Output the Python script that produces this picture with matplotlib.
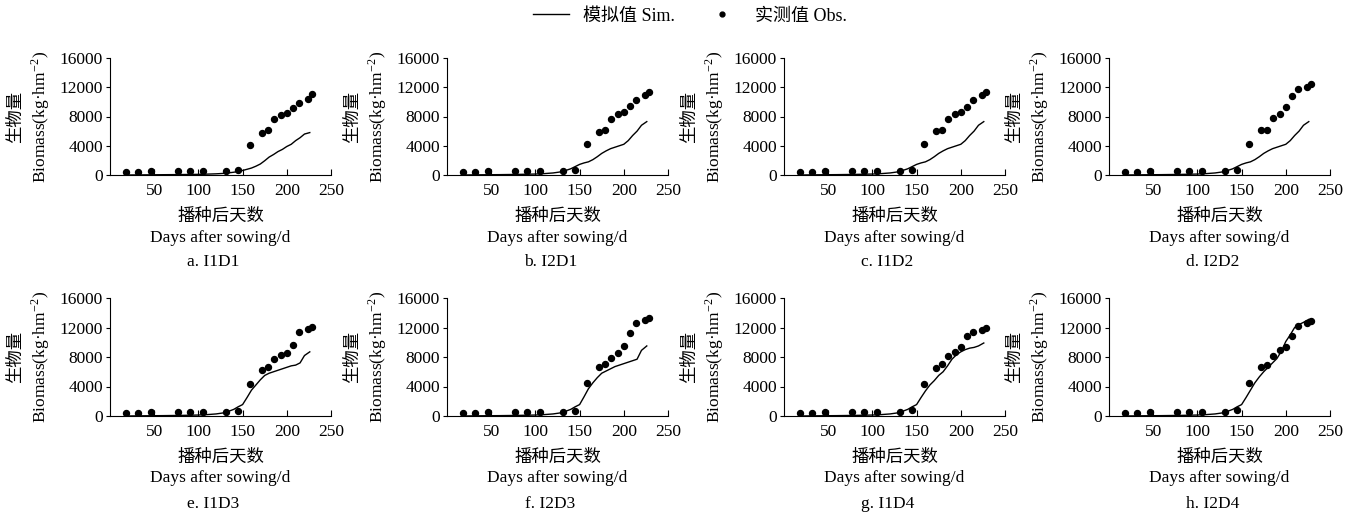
import matplotlib
matplotlib.use('Agg')
import matplotlib.pyplot as plt
from matplotlib.lines import Line2D

plt.rcParams['font.family'] = ['Liberation Serif', 'Noto Sans CJK SC']
plt.rcParams['mathtext.fontset'] = 'stix'
plt.rcParams['font.size'] = 12.5

# observation days and simulation days
obs_days = [18, 32, 46, 77, 91, 105, 131, 145, 158, 172, 179, 186, 193, 200, 207, 214, 224, 229]
sim_days = [18, 40, 60, 80, 100, 110, 120, 130, 140, 145, 150, 155, 160, 165, 170,
            175, 180, 185, 190, 195, 200, 205, 210, 215, 220, 226]

titles = ['a. I1D1', 'b. I2D1', 'c. I1D2', 'd. I2D2',
          'e. I1D3', 'f. I2D3', 'g. I1D4', 'h. I2D4']

obs_a = [400, 400, 600, 600, 600, 600, 600, 700, 4100, 5700, 6100, 7600, 8200, 8500, 9200, 9800, 10400, 11050]
obs_b = [400, 400, 600, 600, 600, 600, 600, 700, 4200, 5900, 6200, 7600, 8400, 8600, 9400, 10300, 11000, 11300]
obs_c = [400, 400, 600, 600, 600, 600, 600, 700, 4300, 6000, 6200, 7700, 8400, 8600, 9300, 10300, 11000, 11300]
obs_d = [400, 400, 600, 600, 600, 600, 600, 700, 4200, 6100, 6200, 7800, 8400, 9300, 10800, 11700, 12100, 12500]
obs_e = [400, 400, 600, 600, 600, 600, 600, 700, 4300, 6300, 6700, 7700, 8300, 8600, 9600, 11400, 11800, 12100]
obs_f = [400, 400, 600, 600, 600, 600, 600, 700, 4500, 6600, 7000, 7900, 8600, 9500, 11200, 12600, 13000, 13300]
obs_g = [400, 400, 600, 600, 600, 600, 600, 800, 4400, 6500, 7100, 8200, 8700, 9300, 10900, 11400, 11600, 11900]
obs_h = [400, 400, 600, 600, 600, 600, 600, 800, 4500, 6700, 6900, 8100, 8900, 9400, 10800, 12200, 12600, 12900]

sim_a = [0, 20, 40, 60, 90, 120, 160, 230, 380, 480, 620, 780, 950, 1200, 1500, 1950, 2450, 2800,
         3200, 3500, 3900, 4200, 4700, 5100, 5600, 5800]
sim_b = [0, 30, 50, 80, 130, 190, 280, 450, 850, 1150, 1450, 1650, 1800, 2100, 2500, 2950, 3300, 3600,
         3800, 4000, 4200, 4700, 5400, 6000, 6800, 7300]
sim_c = sim_b
sim_d = sim_b
sim_e = [0, 30, 50, 80, 130, 190, 280, 450, 900, 1250, 1550, 2500, 3500, 4200, 4900, 5500, 5800, 6000,
         6200, 6400, 6600, 6800, 6900, 7200, 8200, 8700]
sim_f = [0, 30, 50, 80, 130, 190, 280, 450, 900, 1250, 1550, 2600, 3700, 4500, 5200, 5800, 6100, 6400,
         6700, 6900, 7100, 7300, 7500, 7700, 8900, 9500]
sim_g = [0, 30, 50, 80, 130, 190, 280, 450, 900, 1250, 1550, 2500, 3400, 4200, 4800, 5500, 6000, 6800,
         7700, 8300, 8700, 9000, 9200, 9300, 9500, 9900]
sim_h = [0, 30, 50, 80, 130, 190, 280, 450, 900, 1250, 1550, 2500, 3500, 4500, 5300, 6000, 6600, 7200,
         7800, 8800, 10100, 11000, 12000, 12400, 12700, 13100]

obs_all = [obs_a, obs_b, obs_c, obs_d, obs_e, obs_f, obs_g, obs_h]
sim_all = [sim_a, sim_b, sim_c, sim_d, sim_e, sim_f, sim_g, sim_h]

fig = plt.figure(figsize=(13.6, 5.22), dpi=100)

lefts = [110, 447, 784, 1109]
width = 221
rows = [(175, 117), (416, 118)]  # bottom pixel, height pixel

for i in range(8):
    r, c = divmod(i, 4)
    bot, h = rows[r]
    ax = fig.add_axes([lefts[c] / 1360, (522 - bot) / 522, width / 1360, h / 522])
    ax.plot(sim_days, sim_all[i], color='black', lw=1.0)
    ax.plot(obs_days, obs_all[i], 'o', color='black', ms=4.3, ls='none')
    ax.set_xlim(0, 250)
    ax.set_ylim(0, 16000)
    ax.set_xticks([50, 100, 150, 200, 250])
    ax.set_yticks([0, 4000, 8000, 12000, 16000])
    ax.spines['top'].set_visible(False)
    ax.spines['right'].set_visible(False)
    ax.tick_params(axis='x', direction='in', length=4, pad=6)
    ax.tick_params(axis='y', direction='out', length=3, pad=2)
    ax.annotate('播种后天数', xy=(0.5, 0), xycoords='axes fraction', xytext=(0, -30),
                textcoords='offset points', ha='center', va='center')
    ax.annotate('Days after sowing/d', xy=(0.5, 0), xycoords='axes fraction', xytext=(0, -45),
                textcoords='offset points', ha='center', va='center')
    ax.annotate(titles[i], xy=(0.5, 0), xycoords='axes fraction', xytext=(-5, -63),
                textcoords='offset points', ha='center', va='center')
    ax.annotate('生物量', xy=(0, 0.5), xycoords='axes fraction', xytext=(-68, 0),
                textcoords='offset points', ha='center', va='center', rotation=90)
    ax.annotate(r'Biomass(kg·hm$^{\mathregular{-2}}$)', xy=(0, 0.5), xycoords='axes fraction',
                xytext=(-50, 0), textcoords='offset points', ha='center', va='center', rotation=90)

handles = [Line2D([], [], color='black', lw=1.0),
           Line2D([], [], color='black', marker='o', ms=3.5, ls='none')]
fig.legend(handles, ['模拟值 Sim.', '实测值 Obs.'], loc='center', bbox_to_anchor=(0.507, 0.969),
           ncol=2, frameon=False, handlelength=2.0, columnspacing=1.6, fontsize=13)

fig.savefig('out.png', dpi=100)
